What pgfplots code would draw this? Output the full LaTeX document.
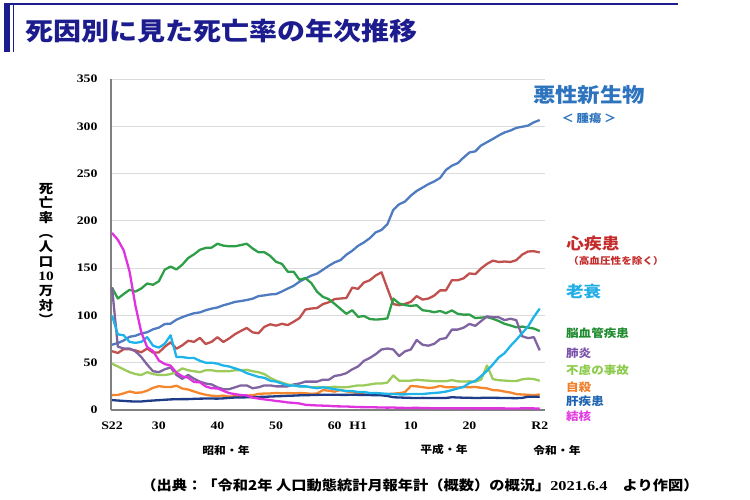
\documentclass[border=0pt]{standalone}
\usepackage{pgfplots}
\pgfplotsset{compat=1.18}
\usepackage{pgfplotstable}
\usepackage{fontspec}
\setmainfont{Liberation Serif}
\newfontfamily\jp{Noto Sans CJK JP}[FakeStretch=1.12]
\newfontfamily\tnr{Liberation Serif}[FakeStretch=1.2]

\definecolor{navy}{HTML}{1C1C8E}
\definecolor{cC}{HTML}{4F7BC0}
\definecolor{cH}{HTML}{C0504D}
\definecolor{cV}{HTML}{2E9E48}
\definecolor{cP}{HTML}{8064A2}
\definecolor{cS}{HTML}{1EB4EA}
\definecolor{cA}{HTML}{9BCB5A}
\definecolor{cU}{HTML}{F4862E}
\definecolor{cL}{HTML}{1F3C88}
\definecolor{cT}{HTML}{E033E0}
\definecolor{tC}{HTML}{2D73BE}
\definecolor{tH}{HTML}{C42B2B}
\definecolor{tS}{HTML}{22ADE6}
\definecolor{tV}{HTML}{1E8A2E}
\definecolor{tP}{HTML}{7B52AB}
\definecolor{tA}{HTML}{8CCB4E}
\definecolor{tU}{HTML}{F07F2A}
\definecolor{tL}{HTML}{1D63B0}
\definecolor{tT}{HTML}{E23BE2}

\pgfplotstableread{
year C H V P S A U L T
1947 69.0 62.2 129.4 130 100 49 15.7 10.5 187.2
1948 70.8 60.3 117.9 67 80 46 15.9 10.0 179.9
1949 73.5 64.3 122.6 65 79 43 17.6 9.6 168.8
1950 77.4 64.2 127.1 65 72 40 19.6 9.2 146.4
1951 78.5 63.0 125.2 62 71 38 18.2 8.9 110.3
1952 80.9 61.0 128.5 56 72 37 18.5 9.0 82.2
1953 82.2 65.0 133.7 48 77 40 20.4 9.6 66.5
1954 85.3 60.7 132.4 41 68 38 23.4 10.0 62.4
1955 87.1 60.9 136.1 40 66 37 25.2 10.4 52.3
1956 90.9 66.8 148.4 43 70 37 24.4 10.8 48.6
1957 91.3 71.6 151.7 45 79 38 24.2 11.2 46.9
1958 95.5 64.8 148.6 37 56 40 25.7 11.4 39.5
1959 98.2 68.4 153.7 33 56 44 22.7 11.5 35.5
1960 100.4 73.2 160.7 37 55 42 21.6 11.5 34.2
1961 102.3 72.1 164.6 33 55 41 19.6 11.8 29.6
1962 103.2 76.2 169.4 30 52 40 17.6 12.0 29.3
1963 105.5 69.8 171.4 28 50 42 16.1 12.1 24.9
1964 107.2 72.1 171.7 27 50 42 15.1 12.1 23.0
1965 108.4 77.0 175.8 24 49 41 14.7 12.0 22.8
1966 110.7 71.9 173.8 22 47 41 15.2 12.3 20.3
1967 112.4 75.7 173.1 22 46 41 14.2 12.8 17.8
1968 114.3 80.2 173.1 24 44 42 14.5 13.2 16.8
1969 115.2 83.6 174.4 26 42 42 14.5 13.3 15.8
1970 116.3 86.7 175.8 26 39 42.5 15.3 13.4 15.4
1971 117.7 82.1 170.8 23 37 41 15.6 13.6 13.1
1972 120.4 81.2 166.7 24 35 40 17.0 13.8 12.1
1973 121.2 87.9 166.8 26 34 38 17.4 14.0 11.2
1974 122.2 90.6 163.0 26 31 34 17.5 14.2 10.5
1975 122.6 89.2 156.7 25 30 31 18.0 14.5 9.5
1976 125.3 91.1 154.5 25 28 29 17.6 14.7 8.9
1977 128.4 89.8 146.2 25 26 27 17.9 15.0 8.0
1978 131.3 93.3 146.2 27 26 26 17.6 15.2 7.5
1979 135.7 97.2 137.7 28 25 25 18.0 15.5 6.9
1980 139.1 106.2 139.5 30 25 25 17.7 15.6 5.5
1981 142.0 107.3 134.3 30 24 24 17.1 15.8 5.1
1982 144.2 107.8 125.0 30 23 24 17.5 16.0 4.8
1983 148.3 112.0 119.6 32 24 24 21.0 16.1 4.6
1984 152.5 113.9 117.2 32 23 24 20.4 16.2 4.4
1985 156.1 117.3 112.2 36 22 24.6 19.4 16.2 3.9
1986 158.5 117.9 106.9 37 21 24 21.2 16.0 3.8
1987 164.2 118.4 101.7 39 20 24 19.6 16.0 3.7
1988 168.4 129.4 105.5 43 20 25 19.0 16.1 3.4
1989 173.6 128.1 98.5 46 19 26 17.3 16.0 3.1
1990 177.2 134.8 99.4 52 19 26 16.4 16.0 3.0
1991 181.7 137.2 96.2 55 18 27 16.1 15.8 2.9
1992 187.8 142.2 95.6 59 18 28 16.9 15.6 2.8
1993 190.4 145.6 96.0 64 17.5 28 16.6 15.5 2.6
1994 196.4 128.6 96.9 65 17 29 16.9 14.8 2.5
1995 211.6 112.0 117.9 64 17 36.5 17.2 13.5 2.6
1996 217.5 110.8 112.6 57 16.5 31 17.8 13.2 2.3
1997 220.4 112.2 111.0 62 16.5 31 18.8 13.0 2.2
1998 226.7 114.3 110.0 64 17 31 25.4 12.8 2.2
1999 231.6 120.4 110.8 74 17 32 25.0 12.7 2.3
2000 235.2 116.8 105.5 69 16.9 31.4 24.1 12.8 2.1
2001 238.8 117.8 104.7 68 17.5 31 23.3 12.7 2.0
2002 241.7 121.0 103.4 70 18 30.5 23.8 12.6 1.8
2003 245.4 126.5 104.7 75 18.5 30.5 25.5 12.6 1.9
2004 253.9 126.5 102.3 76 19.5 30.5 24.0 12.7 1.8
2005 258.3 137.2 105.3 85 21 31.6 24.2 13.5 1.8
2006 261.0 137.2 101.7 85 22.8 30.3 23.7 13.2 1.7
2007 266.9 139.2 100.8 87 24.4 30.1 24.4 13.0 1.7
2008 272.3 144.4 100.9 91 28.6 30.3 24.0 12.9 1.8
2009 273.5 143.7 97.2 89 30.7 30 24.4 12.7 1.7
2010 279.7 149.8 97.7 94 35.9 32.2 23.4 12.8 1.7
2011 283.2 154.5 98.2 99 41.4 47.1 22.9 13.0 1.7
2012 286.6 157.9 96.5 98 48.2 32.6 21.0 12.9 1.7
2013 290.3 156.5 94.1 98 55.5 31.5 20.7 12.8 1.7
2014 293.5 157.0 91.1 95 60.1 31.1 19.5 12.7 1.7
2015 295.5 156.5 89.4 96.5 67.7 30.6 18.5 12.6 1.5
2016 298.3 158.4 87.4 95 74.2 30.6 16.8 12.5 1.5
2017 299.5 164.3 88.2 78 81.3 32.4 16.4 12.8 1.8
2018 300.7 167.6 87.1 76 88.2 33.2 16.1 14.0 1.8
2019 304.2 167.9 86.1 77 98.5 32.7 15.7 14.0 1.7
2020 306.6 166.6 83.5 63 107.3 30.9 16.4 14.1 1.4
}\data

\begin{document}
\begin{tikzpicture}
\path (0pt,0pt) rectangle (750pt,500pt);
% title decoration
\fill[navy] (4pt,448pt) rectangle (10pt,495pt);
\draw[navy, line width=0.8pt] (13.3pt,448pt) -- (13.3pt,495pt);
\draw[navy, line width=2pt] (4pt,495.5pt) -- (678pt,495.5pt);
\node[anchor=west, inner sep=0pt, text=navy, font=\jp\bfseries\fontsize{25}{28}\selectfont] at (25pt,469pt) {死因別に見た死亡率の年次推移};

\begin{axis}[
  at={(111pt,90pt)}, anchor=south west,
  scale only axis, width=434pt, height=331pt,
  xmin=1946.83, xmax=2020.9, ymin=0, ymax=350,
  axis lines*=left,
  axis line style={draw=black!50, line width=1.3pt},
  ymajorgrids, grid style={draw=black!14, line width=0.8pt},
  ytick={0,50,...,350},
  xtick={1947,1955,1965,1975,1985,1989,1998,2008,2020},
  xticklabels={S22,30,40,50,60,H1,10,20,R2},
  major tick length=0pt,
  /pgf/number format/assume math mode=true,
  tick label style={font=\tnr\bfseries\fontsize{11.5}{12}\selectfont},
  yticklabel style={xshift=-10pt},
  xticklabel style={yshift=-8pt},
  no markers,
  every axis plot/.append style={line width=2.3pt, line join=round},
  clip=false,
]
\addplot[cC] table[x=year,y=C]{\data};
\addplot[cH] table[x=year,y=H]{\data};
\addplot[cV] table[x=year,y=V]{\data};
\addplot[cP] table[x=year,y=P]{\data};
\addplot[cA] table[x=year,y=A]{\data};
\addplot[cU] table[x=year,y=U]{\data};
\addplot[cL] table[x=year,y=L]{\data};
\addplot[cS] table[x=year,y=S]{\data};
\addplot[cT] table[x=year,y=T]{\data};
\end{axis}

% y axis label (vertical writing)
\node[inner sep=0pt, align=center, font=\jp\bfseries\fontsize{12.8}{14.6}\selectfont] at (46pt,246pt)
  {死\\亡\\率\\︵\\人\\口\\{\tnr\bfseries 10}\\万\\対\\︶};

% era labels
\node[inner sep=0pt, font=\jp\bfseries\fontsize{10.5}{12}\selectfont] at (226pt,50pt) {昭和・年};
\node[inner sep=0pt, font=\jp\bfseries\fontsize{10.5}{12}\selectfont] at (444pt,50pt) {平成・年};
\node[inner sep=0pt, font=\jp\bfseries\fontsize{10.5}{12}\selectfont] at (557pt,50pt) {令和・年};

% series labels
\node[inner sep=0pt, text=tC, font=\jp\bfseries\fontsize{20}{22}\selectfont] at (589pt,405pt) {悪性新生物};
\node[inner sep=0pt, text=tC, font=\jp\bfseries\fontsize{11}{12}\selectfont] at (589pt,382pt) {＜ 腫瘍 ＞};
\node[inner sep=0pt, text=tH, font=\jp\bfseries\fontsize{15.8}{17}\selectfont] at (593pt,256.5pt) {心疾患};
\node[inner sep=0pt, text=tH, font=\jp\bfseries\fontsize{9.5}{11}\selectfont] at (616pt,239pt) {（高血圧性を除く）};
\node[anchor=west, inner sep=0pt, text=tS, font=\jp\bfseries\fontsize{15.6}{17}\selectfont] at (566pt,208.5pt) {老衰};
\node[anchor=west, inner sep=0pt, text=tV, font=\jp\bfseries\fontsize{11.2}{12}\selectfont] at (566pt,167pt) {脳血管疾患};
\node[anchor=west, inner sep=0pt, text=tP, font=\jp\bfseries\fontsize{11.2}{12}\selectfont] at (566pt,147pt) {肺炎};
\node[anchor=west, inner sep=0pt, text=tA, font=\jp\bfseries\fontsize{11.2}{12}\selectfont] at (566pt,130pt) {不慮の事故};
\node[anchor=west, inner sep=0pt, text=tU, font=\jp\bfseries\fontsize{11.2}{12}\selectfont] at (566pt,113pt) {自殺};
\node[anchor=west, inner sep=0pt, text=tL, font=\jp\bfseries\fontsize{11.2}{12}\selectfont] at (566pt,98.3pt) {肝疾患};
\node[anchor=west, inner sep=0pt, text=tT, font=\jp\bfseries\fontsize{11.2}{12}\selectfont] at (566pt,84pt) {結核};

% source
\node[inner sep=0pt, font=\jp\bfseries\fontsize{13.6}{15}\selectfont] at (420pt,15pt)
  {（出典：「令和2年 人口動態統計月報年計（概数）の概況」{\tnr\bfseries 2021.6.4}　より作図）};
\end{tikzpicture}
\end{document}
